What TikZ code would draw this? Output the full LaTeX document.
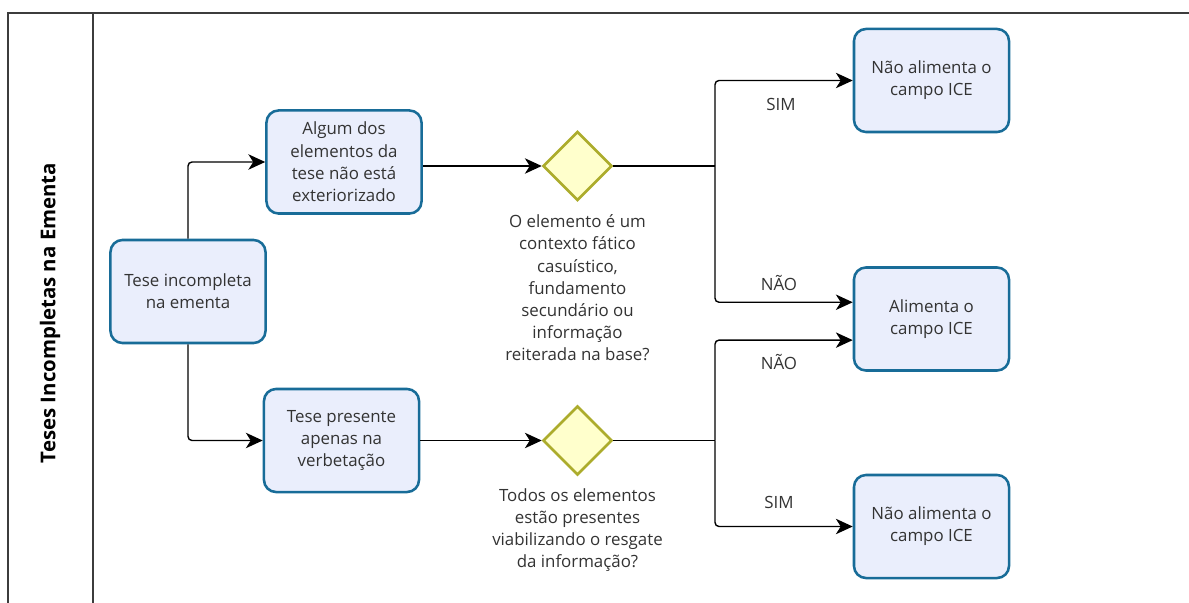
\documentclass[tikz,border=0pt]{standalone}
\usepackage{fontspec}
\setmainfont{Open Sans}
\usetikzlibrary{shapes.geometric,arrows.meta}

\definecolor{taskfill}{RGB}{234,238,252}
\definecolor{taskline}{RGB}{24,108,152}
\definecolor{gatefill}{RGB}{255,255,204}
\definecolor{gateline}{RGB}{172,172,44}
\definecolor{txt}{RGB}{51,51,51}
\definecolor{poolline}{RGB}{60,60,60}

\begin{document}
\begin{tikzpicture}[x=0.025cm,y=-0.025cm,
    task/.style={draw=taskline,fill=taskfill,line width=1.8pt,rounded corners=0.3cm,
        minimum width=3.875cm,minimum height=2.575cm,align=center,text=txt,
        font=\fontsize{12}{15.8}\selectfont},
    gate/.style={diamond,draw=gateline,fill=gatefill,line width=1.8pt,
        minimum width=1.725cm,minimum height=1.725cm,inner sep=0pt},
    note/.style={align=center,text=txt,font=\fontsize{12}{15.8}\selectfont},
    flow/.style={-{Stealth[length=12pt,width=11pt,inset=3.5pt]},line width=1pt,rounded corners=0.1cm}]
    \useasboundingbox (0,0) rectangle (1189,603);
    % pool
    \draw[poolline,line width=1.5pt] (1189,13) -- (8,13) -- (8,603);
    \draw[poolline,line width=1pt] (93,13) -- (93,603);
    \node (pool) [rotate=90,font=\bfseries\fontsize{14.5}{16}\selectfont] at (50,313) {Teses Incompletas na Ementa};

    % tasks and gateways
    \node (incomp) [task] at (188,291.5) {Tese incompleta\\na ementa};
    \node (algum) [task] at (344,162) {Algum dos\\elementos da\\tese não está\\exteriorizado};
    \node (presente) [task] at (341.5,440.5) {Tese presente\\apenas na\\verbetação};
    \node (q1) [gate] at (577.5,166) {};
    \node (q2) [gate] at (577.5,440.5) {};
    \node (q1text) [note] at (577.5,288) {O elemento é um\\contexto fático\\casuístico,\\fundamento\\secundário ou\\informação\\reiterada na base?};
    \node (q2text) [note] at (577.5,530) {Todos os elementos\\estão presentes\\viabilizando o resgate\\da informação?};
    \node (naoa) [task] at (931.5,80.5) {Não alimenta o\\campo ICE};
    \node (alim) [task] at (931.5,319) {Alimenta o\\campo ICE};
    \node (naob) [task] at (931.5,526.5) {Não alimenta o\\campo ICE};
    \coordinate (j1) at (715,166);
    \coordinate (j2) at (715,440.5);

    % flows
    \draw[flow] (incomp.north) |- (algum.west);
    \draw[flow] (incomp.south) |- (presente.west);
    \draw[flow] (algum.east |- q1.west) -- (q1.west);
    \draw[flow] (presente.east) -- (q2.west);
    \draw[line width=1pt] (q1.east) -- (j1);
    \draw[flow] (j1) |- (naoa.west);
    \draw[flow] (j1) |- (alim.168);
    \draw[line width=1pt] (q2.east) -- (j2);
    \draw[flow] (j2) |- (alim.195);
    \draw[flow] (j2) |- (naob.west);
    \node (sim1) [note] at (781,104) {SIM};
    \node (nao1) [note] at (779,283) {NÃO};
    \node (nao2) [note] at (779,362) {NÃO};
    \node (sim2) [note] at (779,502) {SIM};
\end{tikzpicture}
\end{document}
